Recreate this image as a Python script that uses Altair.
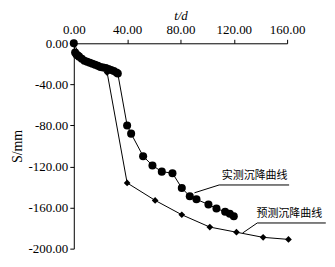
import altair as alt
import pandas as pd

# Measured settlement (实测)
meas_t = [0, 1, 2, 3, 4, 6, 8, 10, 12, 14, 16, 18, 20, 22, 24, 26, 28, 30, 32, 33,
          40, 43, 52, 59, 66, 74, 81, 87, 92, 101, 107, 113.5, 117, 120]
meas_s = [0, -9, -11, -12, -13, -15, -17, -18, -19, -20, -21, -22, -23, -23.5, -24, -25, -26, -27, -28.5, -29.5,
          -80, -88, -110, -119, -125, -126.5, -141, -149, -152, -157, -161, -164, -166, -168.5]

# Predicted settlement (预测)
pred_t = [0, 5, 10, 15, 20, 25, 40, 61, 81, 102, 122, 142, 161]
pred_s = [0, -13, -18, -21, -24, -28.5, -136, -153, -167, -179, -184, -189, -191]

# Annotations
label_text = ["实测沉降曲线", "预测沉降曲线"]
label_t = [111, 137]
label_s = [-129, -166]
leader_group = ["m", "m", "m", "p", "p", "p"]
leader_t = [90.5, 109, 161.5, 126.6, 137.6, 189]
leader_s = [-145.6, -138, -138, -184.8, -175, -175]

x_ticks = [0, 20, 40, 60, 80, 100, 120, 140, 160]
y_ticks = [-200, -180, -160, -140, -120, -100, -80, -60, -40, -20, 0]

meas = pd.DataFrame({"t": meas_t, "s": meas_s})
pred = pd.DataFrame({"t": pred_t, "s": pred_s})
labels = pd.DataFrame({"txt": label_text, "t": label_t, "s": label_s})
leaders = pd.DataFrame({"g": leader_group, "t": leader_t, "s": leader_s})

FONT = "Liberation Serif"

xscale = alt.Scale(domain=[0, 160], nice=False, zero=False)
yscale = alt.Scale(domain=[-200, 0], nice=False)

x_axis = alt.Axis(
    orient="top", values=x_ticks, title="t/d",
    labelExpr="datum.value % 40 === 0 ? format(datum.value, '.2f') : ''",
    tickSize={"condition": {"test": "datum.value % 40 !== 0", "value": 2}, "value": 4},
    grid=False, domainColor="black", tickColor="black", labelColor="black",
    labelFont=FONT, labelFontSize=13, titleFont=FONT, titleFontSize=13,
    titleFontWeight="normal", titleFontStyle="italic", labelPadding=3, titlePadding=1,
    labelOverlap=False, labelFlush=False,
)
y_axis = alt.Axis(
    orient="left", values=y_ticks, title="S/mm",
    labelExpr="datum.value % 40 === 0 ? replace(format(datum.value, '.2f'), '\u2212', '-') : ''",
    tickSize={"condition": {"test": "datum.value % 40 !== 0", "value": 2}, "value": 4},
    grid=False, domainColor="black", tickColor="black", labelColor="black",
    labelFont=FONT, labelFontSize=13, titleFont=FONT, titleFontSize=14,
    titleFontWeight="normal", titleAngle=270, titleBaseline="alphabetic",
    titleX=-52, titleAlign="center", labelPadding=2,
    labelOverlap=False, labelFlush=False,
)

meas_line = alt.Chart(meas).mark_line(color="black", strokeWidth=1).encode(
    x=alt.X("t:Q", scale=xscale, axis=x_axis), y=alt.Y("s:Q", scale=yscale, axis=y_axis))
meas_pts = alt.Chart(meas).mark_point(shape="circle", filled=True, color="black", size=65, opacity=1).encode(
    x=alt.X("t:Q", scale=xscale), y=alt.Y("s:Q", scale=yscale))
pred_line = alt.Chart(pred).mark_line(color="black", strokeWidth=1).encode(
    x=alt.X("t:Q", scale=xscale), y=alt.Y("s:Q", scale=yscale))
pred_pts = alt.Chart(pred).mark_point(shape="diamond", filled=True, color="black", size=45, opacity=1).encode(
    x=alt.X("t:Q", scale=xscale), y=alt.Y("s:Q", scale=yscale))
lead = alt.Chart(leaders).mark_line(color="black", strokeWidth=1).encode(
    x=alt.X("t:Q", scale=xscale), y=alt.Y("s:Q", scale=yscale), detail="g:N")
txt = alt.Chart(labels).mark_text(align="left", baseline="middle", font="Noto Sans CJK SC",
                                  fontSize=11, color="black").encode(
    x=alt.X("t:Q", scale=xscale), y=alt.Y("s:Q", scale=yscale), text="txt:N")

chart = alt.layer(meas_line, pred_line, lead, meas_pts, pred_pts, txt).properties(
    width=214, height=206,
    autosize=alt.AutoSizeParams(type="none"),
    padding={"left": 66, "top": 35, "right": 40, "bottom": 10},
    background="white",
).configure_view(stroke=None)

chart.save("out.html", embed_options={"renderer": "svg", "actions": False})
